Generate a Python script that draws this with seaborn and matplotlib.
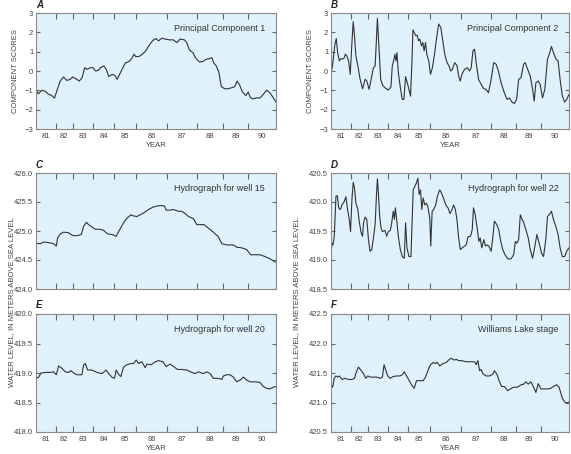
import matplotlib
matplotlib.use("Agg")
import matplotlib.pyplot as plt
import seaborn as sns
import numpy as np

# observation number (x axis) and readings for every panel
a_obs = [0, 2.3, 5.7, 9.1, 12.4, 15.8, 18.5, 20.8, 24.2, 27.5,
         30.9, 34.2, 36.6, 39.9, 43.3, 46, 48.7, 51, 54.4, 57.1,
         59.4, 62.1, 64.5, 67.8, 70.2, 72.8, 76.2, 78.9, 81.2, 83.6,
         86.9, 89.6, 93, 95.7, 98, 99.7, 103, 106.4, 109.8, 113.1,
         116.5, 119.8, 122.5, 125.9, 129.2, 133.3, 137.3, 141, 144, 148.4,
         150.7, 153.4, 156.8, 160.1, 163.5, 166.8, 170.2, 173.5, 175.9, 177.6,
         180.3, 183, 185.3, 188.7, 192, 195.4, 198.7, 201.1, 203.8, 206.5,
         209.8, 212.2, 214.5, 217.2, 220.5, 223.9, 227.3, 230.6, 234, 237.3, 240]
a_val = [-0.99, -1.18, -1.0, -1.04, -1.2, -1.27, -1.4, -1.04, -0.52, -0.31,
         -0.49, -0.43, -0.31, -0.4, -0.52, -0.35, 0.17, 0.09, 0.17, 0.17,
         0, 0.03, 0.17, 0.26, 0.09, -0.29, -0.17, -0.23, -0.43, -0.17,
         0.17, 0.43, 0.49, 0.64, 0.87, 0.75, 0.75, 0.87, 1.04, 1.33,
         1.56, 1.68, 1.56, 1.70, 1.65, 1.61, 1.61, 1.47, 1.65, 1.61,
         1.47, 1.09, 0.95, 0.64, 0.47, 0.49, 0.61, 0.64, 0.69, 0.43,
         0.26, -0.09, -0.81, -0.92, -0.92, -0.87, -0.81, -0.52, -0.75, -1.09,
         -1.27, -1.09, -1.39, -1.44, -1.39, -1.40, -1.21, -0.99, -1.13, -1.39, -1.61]

b_obs = [0, 1.7, 3.7, 5.3, 6.7, 8.4, 10.0, 11.7, 13.4, 14.4,
         16.0, 17.7, 19.4, 21.1, 22.4, 23.7, 25.1, 27.1, 29.4, 31.8,
         34.4, 36.1, 38.4, 40.5, 42.8, 44.5, 45.5, 46.8, 48.1, 50.1,
         52.2, 54.5, 57.8, 60.5, 61.8, 63.5, 64.5, 65.5, 66.5, 67.9,
         70.2, 71.9, 73.5, 75.2, 76.9, 78.6, 80.2, 81.6, 82.6, 83.9,
         85.6, 86.9, 88.3, 89.6, 91.3, 92.6, 93.9, 95.3, 96.6, 98.6,
         100.3, 102.3, 104.6, 106.3, 108.6, 110.7, 113.0, 114.7, 117.0, 119.0,
         120.7, 122.4, 124.7, 127.0, 128.7, 130.4, 132.0, 134.7, 137.4, 139.7,
         141.4, 143.1, 144.8, 146.4, 148.8, 151.4, 154.1, 156.5, 158.8, 161.5,
         164.1, 166.5, 168.8, 171.5, 174.8, 177.5, 179.9, 182.5, 184.9, 187.2,
         189.2, 191.6, 194.2, 195.9, 198.3, 200.9, 203.3, 204.9, 206.6, 208.9,
         210.9, 213.3, 215.6, 218.3, 220.6, 222.3, 224.3, 226.7, 229.0, 231.0,
         233.3, 235.7, 237.7, 240]
b_val = [-0.17, 0.35, 1.3, 1.68, 0.95, 0.52, 0.64, 0.61, 0.69, 0.87,
         0.78, 0.52, -0.17, 1.47, 2.55, 1.82, 0.78, 0.26, -0.43, -0.92,
         -0.43, -0.52, -0.95, -0.43, 0.17, 0.26, 1.3, 2.72, 1.47, -0.43,
         -0.75, -0.87, -0.99, -0.81, 0.26, 0.61, 0.87, 0.52, 0.95, -0.09,
         -0.95, -1.47, -1.47, -0.29, -0.61, -0.95, -1.3, 0.43, 2.13, 1.99,
         1.82, 1.85, 1.56, 1.65, 1.3, 1.47, 1.04, 1.47, 0.87, 0.52,
         -0.17, 0.17, 0.95, 1.65, 2.43, 2.25, 1.47, 0.87, 0.43, 0.26,
         0, 0.09, 0.43, 0.29, -0.26, -0.52, -0.17, 0.09, 0.17, 0,
         0.17, 1.04, 1.13, 0.43, -0.43, -0.69, -0.92, -0.95, -1.13, -0.43,
         0.43, 0.35, 0, -0.61, -1.13, -1.47, -1.39, -1.61, -1.68, -1.47,
         -0.43, -0.35, 0.35, 0.43, 0.09, -0.26, -0.95, -1.56, -0.61, -0.52,
         -0.69, -1.39, -0.95, 0.61, 0.95, 1.27, 0.95, 0.64, 0.52, -0.43,
         -1.3, -1.61, -1.47, -1.21]

c_obs = [0, 4.3, 7.7, 12.6, 17.6, 20.3, 21.6, 24.3, 27.6, 32.6,
         36.9, 41.6, 45.3, 47.6, 50.3, 52.6, 55.9, 59.3, 64.2, 67.6,
         71.6, 75.9, 80.2, 83.6, 87.5, 90.9, 94.9, 97.5, 100.9, 104.2,
         107.5, 112.5, 116.8, 120.8, 125.8, 128.5, 130.2, 134.2, 137.5, 142.5,
         145.8, 149.1, 152.5, 157.5, 160.8, 164.1, 168.1, 172.4, 177.4, 182.4,
         185.8, 190.8, 197.4, 200.7, 205.7, 210.7, 214.7, 219.0, 224.0, 229.0,
         234.0, 240]
c_val = [424.79, 424.78, 424.81, 424.80, 424.78, 424.74, 424.88, 424.95, 424.98, 424.97,
         424.92, 424.92, 424.94, 425.08, 425.15, 425.11, 425.07, 425.03, 425.03, 425.01,
         424.95, 424.94, 424.91, 425.02, 425.14, 425.22, 425.28, 425.26, 425.25, 425.28,
         425.31, 425.37, 425.41, 425.43, 425.44, 425.43, 425.36, 425.36, 425.37, 425.34,
         425.34, 425.30, 425.25, 425.21, 425.11, 425.11, 425.11, 425.05, 424.98, 424.90,
         424.78, 424.76, 424.76, 424.72, 424.71, 424.68, 424.59, 424.59, 424.59, 424.56,
         424.52, 424.46]

d_obs = [0, 1.0, 2.0, 3.3, 5.0, 6.4, 7.7, 9.4, 11.0, 13.4,
         15.0, 16.7, 18.4, 19.7, 21.1, 22.4, 23.7, 25.1, 27.1, 28.4,
         30.4, 31.8, 32.8, 34.4, 36.1, 37.8, 39.4, 41.1, 42.8, 44.5,
         45.8, 46.8, 47.8, 49.1, 50.5, 51.8, 54.5, 56.2, 57.8, 59.8,
         61.2, 62.8, 63.9, 64.9, 66.2, 67.9, 69.9, 71.9, 73.9, 75.2,
         76.6, 78.6, 80.6, 82.9, 84.6, 86.2, 87.6, 88.9, 90.3, 91.6,
         92.9, 94.6, 96.3, 97.9, 99.6, 100.6, 102.0, 103.6, 105.6, 107.3,
         109.6, 111.3, 114.0, 116.3, 118.0, 120.0, 122.0, 123.7, 125.4, 127.0,
         128.7, 130.4, 133.1, 136.4, 138.1, 140.7, 142.4, 143.7, 145.4, 147.4,
         149.1, 150.4, 152.1, 154.1, 155.8, 157.5, 159.1, 161.5, 163.1, 164.8,
         167.2, 169.2, 170.8, 173.2, 175.5, 178.2, 181.5, 184.2, 185.9, 187.5,
         189.2, 190.9, 192.2, 194.2, 196.6, 198.9, 200.9, 203.3, 205.6, 207.6,
         209.9, 212.3, 214.3, 216.6, 218.3, 220.0, 222.3, 224.3, 226.7, 229.0,
         231.0, 233.3, 235.7, 237.7, 240]
d_val = [419.09, 419.29, 419.26, 419.41, 420.10, 420.11, 419.90, 419.87, 419.95, 420.01,
         420.09, 419.87, 419.70, 419.49, 420.04, 420.34, 420.24, 419.98, 419.87, 419.67,
         419.47, 419.41, 419.64, 419.74, 419.70, 419.35, 419.15, 419.18, 419.38, 419.61,
         420.10, 420.40, 420.16, 419.75, 419.55, 419.49, 419.51, 419.41, 419.49, 419.51,
         419.64, 419.84, 419.70, 419.90, 419.70, 419.41, 419.18, 419.06, 419.03, 419.64,
         419.21, 419.06, 419.06, 420.21, 420.27, 420.33, 420.41, 420.13, 420.21, 419.87,
         420.07, 419.95, 419.98, 419.90, 419.72, 419.24, 419.84, 419.87, 419.95, 420.10,
         420.21, 420.16, 420.04, 419.93, 419.90, 419.80, 419.87, 419.95, 419.87, 419.70,
         419.38, 419.18, 419.22, 419.26, 419.40, 419.41, 419.52, 419.90, 419.78, 419.55,
         419.32, 419.38, 419.21, 419.35, 419.24, 419.26, 419.24, 419.15, 419.38, 419.67,
         419.61, 419.52, 419.35, 419.18, 419.09, 419.02, 419.02, 419.09, 419.32, 419.29,
         419.35, 419.78, 419.72, 419.65, 419.52, 419.38, 419.18, 419.03, 419.24, 419.44,
         419.29, 419.12, 419.06, 419.35, 419.75, 419.78, 419.84, 419.70, 419.58, 419.44,
         419.21, 419.06, 419.06, 419.15, 419.21]

e_obs = [0, 2.7, 5.0, 9.3, 14.3, 17.6, 20.3, 22.6, 25.9, 29.3,
         32.6, 34.9, 37.6, 40.9, 45.9, 47.6, 49.3, 51.6, 55.9, 60.9,
         65.9, 70.2, 72.6, 75.9, 78.6, 80.2, 82.6, 84.9, 87.5, 90.9,
         94.9, 97.5, 100.2, 102.5, 105.9, 109.2, 110.9, 114.9, 119.2, 122.5,
         126.9, 130.2, 134.2, 137.5, 141.5, 145.8, 150.8, 155.8, 159.1, 162.4,
         167.4, 170.8, 174.1, 177.4, 182.4, 185.8, 187.4, 190.8, 194.1, 197.4,
         200.7, 204.1, 207.4, 210.7, 214.1, 219.0, 224.0, 227.4, 230.7, 234.0,
         237.3, 240]
e_val = [418.91, 418.93, 419.00, 419.01, 419.01, 419.02, 418.97, 419.12, 419.08, 419.02,
         419.01, 419.04, 419.00, 418.97, 418.97, 419.14, 419.16, 419.05, 419.05, 419.01,
         418.99, 419.05, 418.99, 418.93, 418.91, 419.05, 418.98, 418.94, 419.10, 419.14,
         419.16, 419.16, 419.22, 419.16, 419.19, 419.09, 419.15, 419.14, 419.19, 419.21,
         419.19, 419.11, 419.15, 419.11, 419.06, 419.06, 419.05, 419.01, 418.99, 419.02,
         418.99, 419.02, 418.99, 418.91, 418.91, 418.89, 418.95, 418.97, 418.97, 418.93,
         418.85, 418.88, 418.93, 418.88, 418.85, 418.85, 418.84, 418.77, 418.74, 418.73,
         418.76, 418.77]

f_obs = [0, 1.7, 3.3, 5.0, 6.7, 8.4, 11.0, 14.4, 17.7, 21.1,
         23.7, 25.4, 27.7, 30.1, 32.8, 35.1, 37.1, 39.4, 42.8, 46.1,
         49.5, 51.8, 53.5, 55.2, 57.2, 59.5, 62.8, 66.2, 69.5, 71.9,
         73.9, 76.2, 78.6, 81.2, 83.9, 86.2, 89.6, 92.9, 95.3, 97.9,
         100.3, 103.0, 105.3, 107.3, 109.6, 113.0, 116.3, 118.7, 121.3, 124.0,
         126.4, 128.7, 131.4, 136.4, 141.4, 144.8, 146.4, 148.1, 149.8, 151.4,
         153.1, 156.5, 159.8, 163.1, 164.8, 167.5, 169.9, 172.2, 174.8, 178.2,
         180.9, 184.2, 188.2, 191.6, 194.2, 196.6, 198.9, 201.6, 204.3, 206.6,
         209.0, 211.6, 215.0, 218.3, 221.7, 225.0, 227.7, 230.0, 233.3, 235.7,
         237.7, 240]
f_val = [421.30, 421.26, 421.41, 421.45, 421.43, 421.45, 421.39, 421.41, 421.39, 421.39,
         421.41, 421.51, 421.60, 421.55, 421.49, 421.41, 421.45, 421.43, 421.43, 421.43,
         421.41, 421.43, 421.64, 421.55, 421.45, 421.41, 421.44, 421.45, 421.45, 421.47,
         421.52, 421.45, 421.38, 421.30, 421.24, 421.37, 421.37, 421.37, 421.43, 421.55,
         421.64, 421.68, 421.66, 421.68, 421.62, 421.66, 421.68, 421.72, 421.75, 421.72,
         421.73, 421.71, 421.71, 421.69, 421.69, 421.69, 421.64, 421.71, 421.54, 421.56,
         421.49, 421.45, 421.45, 421.48, 421.54, 421.47, 421.35, 421.27, 421.27, 421.20,
         421.23, 421.26, 421.26, 421.30, 421.31, 421.35, 421.31, 421.35, 421.26, 421.17,
         421.32, 421.23, 421.23, 421.23, 421.24, 421.28, 421.30, 421.26, 421.07, 421.01,
         420.99, 421.01]

# year boundaries in observation numbers, and year labels
year_breaks = [0, 19.7, 37, 57, 78, 100, 131, 161, 187, 212, 240]
year_labels = ["81", "82", "83", "84", "85", "86", "87", "88", "89", "90"]

panels = [
    ("A", "Principal Component 1", a_obs, a_val, (-3, 3), [-3, -2, -1, 0, 1, 2, 3], "int"),
    ("B", "Principal Component 2", b_obs, b_val, (-3, 3), [-3, -2, -1, 0, 1, 2, 3], "int"),
    ("C", "Hydrograph for well 15", c_obs, c_val, (424, 426), [424, 424.5, 425, 425.5, 426], "f1"),
    ("D", "Hydrograph for well 22", d_obs, d_val, (418.5, 420.5), [418.5, 419, 419.5, 420, 420.5], "f1"),
    ("E", "Hydrograph for well 20", e_obs, e_val, (418, 420), [418, 418.5, 419, 419.5, 420], "f1"),
    ("F", "Williams Lake stage", f_obs, f_val, (420.5, 422.5), [420.5, 421, 421.5, 422, 422.5], "f1"),
]

sns.set_style("ticks")
plt.rcParams['font.family'] = ['Liberation Sans', 'DejaVu Sans']

bg = "#dff1fb"
edge = "#8a8a8a"
txt = "#444444"

fig = plt.figure(figsize=(5.71, 4.54), dpi=100)
W, H = 571, 454
cols = [(36, 240), (331, 238)]
rows = [(13, 116), (173, 116), (314, 118)]

mids = [(year_breaks[i] + year_breaks[i + 1]) / 2 for i in range(len(year_labels))]

for k, (letter, title, xo, yv, ylim, yticks, fmt) in enumerate(panels):
    r, c = divmod(k, 2)
    x0, w = cols[c]
    y0, h = rows[r]
    ax = fig.add_axes([x0 / W, 1 - (y0 + h) / H, w / W, h / H])
    ax.set_facecolor(bg)
    sns.lineplot(x=xo, y=yv, ax=ax, color="#333333", lw=0.8,
                 estimator=None, sort=False)
    ax.set_xlim(0, 240)
    ax.set_ylim(*ylim)
    for s in ax.spines.values():
        s.set_color(edge)
        s.set_linewidth(0.8)

    # year boundaries as ticks, labels centred in each year
    ax.set_xticks(year_breaks[1:-1])
    ax.set_xticklabels([])
    ax.tick_params(axis="x", which="major", direction="in", top=True, bottom=True,
                   length=4, width=0.8, color="#666666")
    if r != 1:
        ax.set_xticks(mids, minor=True)
        ax.set_xticklabels(year_labels, minor=True)
        ax.tick_params(axis="x", which="minor", length=0, labelsize=5.5,
                       labelcolor=txt, pad=3)
    ax.set_xlabel("YEAR" if r != 1 else "", fontsize=5.5, color=txt, labelpad=1)

    ax.set_yticks(yticks)
    if fmt == "int":
        ax.set_yticklabels([("\u2212%d" % -t) if t < 0 else "%d" % t for t in yticks])
        ax.set_ylabel("COMPONENT SCORES", fontsize=5.5, color=txt, labelpad=4)
    else:
        ax.set_yticklabels(["%.1f" % t for t in yticks])
        ax.set_ylabel("")
    ax.tick_params(axis="y", direction="in", left=True, right=True, length=3,
                   width=0.8, color="#666666", labelsize=5.5, labelcolor=txt, pad=2)

    ax.text(0.0, 1.03, letter, transform=ax.transAxes, fontsize=7,
            fontweight="bold", fontstyle="italic", color="#222222", ha="left", va="bottom")
    ax.text(0.955, 0.87, title, transform=ax.transAxes, fontsize=6.5,
            color="#333333", ha="right", va="center")

fig.text(12 / W, 1 - 302 / H, "WATER LEVEL, IN METERS ABOVE SEA LEVEL",
         rotation=90, fontsize=5.5, color=txt, ha="center", va="center")
fig.text(297 / W, 1 - 302 / H, "WATER LEVEL, IN METERS ABOVE SEA LEVEL",
         rotation=90, fontsize=5.5, color=txt, ha="center", va="center")

fig.savefig("out.png", dpi=100, facecolor="white")
